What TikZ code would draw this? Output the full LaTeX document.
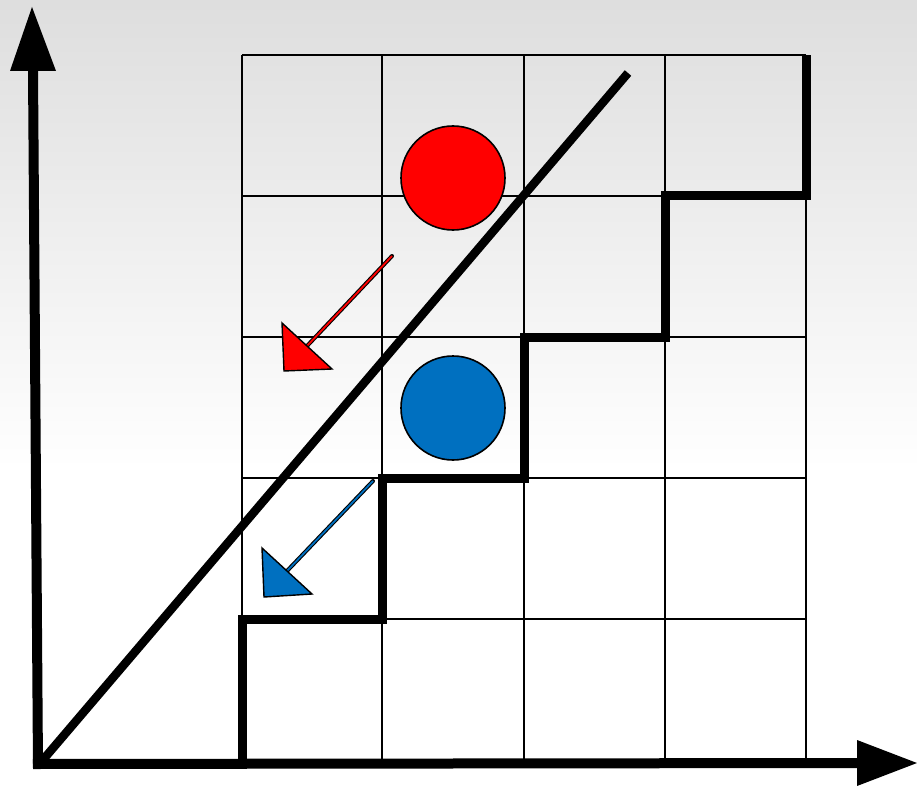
\documentclass[tikz,border=0pt]{standalone}
\usetikzlibrary{calc}
\definecolor{myblue}{HTML}{0070C0}
\begin{document}
\begin{tikzpicture}[x=1pt,y=-1pt,
  gridline/.style={line width=2pt,black},
  stair/.style={line width=9pt,black,line join=miter},
  axis/.style={line width=10pt,black},
  tiphead/.style={fill=black},
  ball/.style={circle,draw=black,line width=1.6pt,minimum size=104pt,inner sep=0pt},
  ptrhead/.style={draw=black,line width=1.4pt,line join=miter}]
\useasboundingbox (0,0) rectangle (917,786);
\shade[top color=black!13,bottom color=white] (0,0) rectangle (917,470);
\fill[white] (0,469) rectangle (917,786);
% grid
\foreach \x in {242,382,524,665,806} \draw[gridline] (\x,55) -- (\x,760);
\foreach \y in {55,196,337,478,619,760} \draw[gridline] (242,\y) -- (806,\y);
% staircase
\draw[stair] (242,760) -- (242,619) -- (382,619) -- (382,478) -- (524,478) -- (524,337) -- (665,337) -- (665,196) -- (806,196) -- (806,55);
% axes
\coordinate (o) at (38,764);
\coordinate (ytip) at (32,7);
\coordinate (xtip) at (917,763);
\draw[axis] (38,768) -- (33,70);
\draw[axis] (33,764) -- (858,763);
\fill[tiphead] (ytip) -- (10,71) -- (56,71) -- cycle;
\fill[tiphead] (xtip) -- (857,740) -- (857,786) -- cycle;
% diagonal
\coordinate (d0) at (42,761);
\coordinate (d1) at (628,73);
\draw[line width=8.5pt] (d0) -- (d1);
% balls
\node[ball,fill=red] (redball) at (453,178) {};
\node[ball,fill=myblue] (blueball) at (453,408) {};
% red pointer
\coordinate (rs) at (392,256);
\coordinate (rm) at (307,346);
\draw[line width=4pt,black,line cap=round] (rs) -- (rm);
\draw[line width=1.8pt,red] (rs) -- (rm);
\fill[red] (284,371) -- (282,323) -- (332,369) -- cycle;
\draw[ptrhead] (284,371) -- (282,323) -- (332,369) -- cycle;
% blue pointer
\coordinate (bs) at (373,481);
\coordinate (bm) at (287,571);
\draw[line width=4pt,black,line cap=round] (bs) -- (bm);
\draw[line width=1.8pt,myblue] (bs) -- (bm);
\fill[myblue] (264,597) -- (262,548) -- (312,594) -- cycle;
\draw[ptrhead] (264,597) -- (262,548) -- (312,594) -- cycle;
\end{tikzpicture}
\end{document}
